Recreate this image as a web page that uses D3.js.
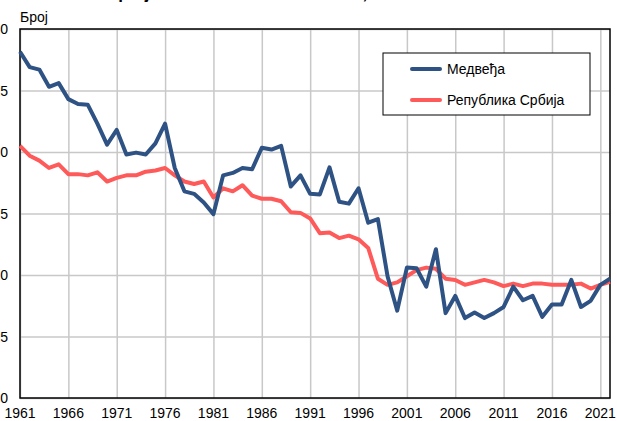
<!DOCTYPE html>
<html>
<head>
<meta charset="utf-8">
<script src="https://cdn.jsdelivr.net/npm/d3@7"></script>
<style>
  body { margin: 0; background: #fff; }
  svg { display: block; font-family: "Liberation Sans", Arial, sans-serif; }
</style>
</head>
<body>
<div id="visualContainer"></div>
<script>
// years 1961..2022
var years = d3.range(1961, 2023);

var medvedja = [28.15, 26.9, 26.7, 25.3, 25.6, 24.3, 23.9, 23.85, 22.3, 20.6,
  21.8, 19.8, 19.95, 19.8, 20.7, 22.3, 18.7, 16.8, 16.6, 15.9,
  14.95, 18.1, 18.3, 18.7, 18.6, 20.35, 20.2, 20.5, 17.2, 18.1,
  16.6, 16.55, 18.75, 15.95, 15.8, 17.05, 14.25, 14.55, 9.9, 7.1,
  10.6, 10.55, 9.05, 12.1, 6.9, 8.3, 6.5, 6.95, 6.5, 6.9,
  7.4, 9.05, 7.95, 8.3, 6.6, 7.6, 7.6, 9.6, 7.4, 7.9,
  9.2, 9.7];

var srbija = [20.5, 19.7, 19.3, 18.7, 19.0, 18.2, 18.2, 18.1, 18.35, 17.6,
  17.9, 18.1, 18.1, 18.4, 18.5, 18.7, 18.1, 17.6, 17.4, 17.6,
  16.3, 17.05, 16.8, 17.3, 16.45, 16.2, 16.2, 16.0, 15.1, 15.05,
  14.6, 13.4, 13.45, 13.0, 13.2, 12.9, 12.2, 9.7, 9.2, 9.4,
  9.9, 10.4, 10.6, 10.5, 9.7, 9.6, 9.2, 9.4, 9.6, 9.4,
  9.1, 9.3, 9.1, 9.3, 9.3, 9.2, 9.2, 9.2, 9.3, 8.9,
  9.2, 9.45];

var yTicks = [0, 5, 10, 15, 20, 25, 30];
var xTicks = d3.range(1961, 2022, 5);
var seriesNames = ["Медвеђа", "Република Србија"];
var seriesColors = ["#2e5283", "#ff5a5a"];

var svgCanvas = d3.select("#visualContainer")
  .append("svg")
  .attr("width", 617)
  .attr("height", 421);

var x = d3.scaleLinear().domain([1961, 2022]).range([20, 610]);
var y = d3.scaleLinear().domain([0, 30]).range([398, 29]);

// title, cut off at the top edge
svgCanvas.append("text")
  .attr("x", 20)
  .attr("y", -1)
  .attr("font-size", 17)
  .attr("font-weight", "bold")
  .text("Стопа живорођених на 1.000 становника, 1961-2022");

svgCanvas.append("text")
  .attr("x", 20)
  .attr("y", 22)
  .attr("font-size", 14)
  .text("Број");

// grid
svgCanvas.append("g")
  .attr("transform", "translate(0,398)")
  .call(d3.axisBottom(x).tickValues(xTicks).tickSize(-369).tickFormat(""))
  .call(function(g) { g.select(".domain").remove(); })
  .selectAll("line").attr("stroke", "#c8c8c8").attr("stroke-width", 1.5);

svgCanvas.append("g")
  .attr("transform", "translate(20,0)")
  .call(d3.axisLeft(y).tickValues(yTicks).tickSize(-590).tickFormat(""))
  .call(function(g) { g.select(".domain").remove(); })
  .selectAll("line").attr("stroke", "#c8c8c8").attr("stroke-width", 1.5);

// tick labels
svgCanvas.selectAll(".ylab")
  .data(yTicks)
  .enter()
  .append("text")
    .attr("class", "ylab")
    .attr("x", 8)
    .attr("y", function(d) { return y(d) + 5; })
    .attr("text-anchor", "end")
    .attr("font-size", 14)
    .text(function(d) { return d; });

svgCanvas.selectAll(".xlab")
  .data(xTicks)
  .enter()
  .append("text")
    .attr("class", "xlab")
    .attr("x", function(d) { return x(d); })
    .attr("y", 418)
    .attr("text-anchor", "middle")
    .attr("font-size", 14)
    .text(function(d) { return d; });

// frame
svgCanvas.append("rect")
  .attr("x", 20).attr("y", 29)
  .attr("width", 590).attr("height", 369)
  .attr("fill", "none")
  .attr("stroke", "#000")
  .attr("stroke-width", 1.5);

var line = d3.line()
  .x(function(d, i) { return x(years[i]); })
  .y(function(d) { return y(d); });

[srbija, medvedja].forEach(function(s, k) {
  svgCanvas.append("path")
    .datum(s)
    .attr("fill", "none")
    .attr("stroke", k == 0 ? seriesColors[1] : seriesColors[0])
    .attr("stroke-width", 4)
    .attr("stroke-linejoin", "round")
    .attr("d", line);
});

// legend
var legend = svgCanvas.append("g");
legend.append("rect")
  .attr("x", 383).attr("y", 53)
  .attr("width", 207).attr("height", 62)
  .attr("fill", "#fff")
  .attr("stroke", "#000")
  .attr("stroke-width", 1);

seriesNames.forEach(function(name, i) {
  legend.append("line")
    .attr("x1", 412).attr("x2", 440)
    .attr("y1", 69 + i * 31).attr("y2", 69 + i * 31)
    .attr("stroke", seriesColors[i])
    .attr("stroke-width", 4)
    .attr("stroke-linecap", "round");
  legend.append("text")
    .attr("x", 447)
    .attr("y", 74 + i * 31)
    .attr("font-size", 14)
    .text(name);
});
</script>
</body>
</html>
